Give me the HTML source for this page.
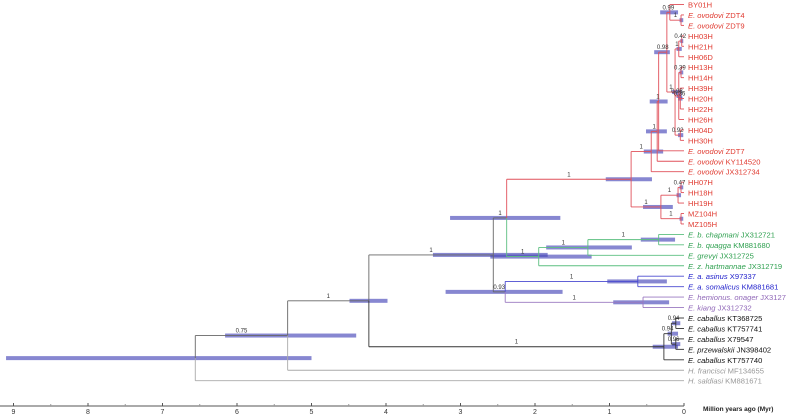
<!DOCTYPE html>
<html><head><meta charset="utf-8">
<style>
html,body{margin:0;padding:0;background:#fff;}
svg{display:block;font-family:"Liberation Sans",sans-serif;}
</style></head>
<body>
<svg id="chart" width="786" height="416" viewBox="0 0 786 416"></svg>
<script>
// ---- data ----
const leafNames = [
 ["","BY01H"],["E. ovodovi"," ZDT4"],["E. ovodovi"," ZDT9"],["","HH03H"],["","HH21H"],["","HH06D"],
 ["","HH13H"],["","HH14H"],["","HH39H"],["","HH20H"],["","HH22H"],["","HH26H"],["","HH04D"],["","HH30H"],
 ["E. ovodovi"," ZDT7"],["E. ovodovi"," KY114520"],["E. ovodovi"," JX312734"],["","HH07H"],["","HH18H"],["","HH19H"],
 ["","MZ104H"],["","MZ105H"],["E. b. chapmani"," JX312721"],["E. b. quagga"," KM881680"],["E. grevyi"," JX312725"],
 ["E. z. hartmannae"," JX312719"],["E. a. asinus"," X97337"],["E. a. somalicus"," KM881681"],
 ["E. hemionus. onager"," JX312730"],["E. kiang"," JX312732"],["E. caballus"," KT368725"],["E. caballus"," KT757741"],
 ["E. caballus"," X79547"],["E. przewalskii"," JN398402"],["E. caballus"," KT757740"],["H. francisci"," MF134655"],["H. saldiasi"," KM881671"]
];
const leafGroups = ["r","r","r","r","r","r","r","r","r","r","r","r","r","r","r","r","r","r","r","r","r","r",
 "g","g","g","g","b","b","p","p","k","k","k","k","k","o","o"];
const nodeIds =      ["N0","N1","N2","N3","N4","N5","N6","N7","N8","N9","N10","N11","N12","N13","N14","N15","N15a","N15b","N16","N17","N18","N19","N20","N21","N22","N23","N25","N26","N27","N30","N31","N32","N33"];
const nodeAges =     [6.56,5.32,4.23,2.56,2.38,0.71,0.44,0.36,0.34,0.23,0.19,0.04,0.12,0.07,0.03,0.07,0.04,0.05,0.05,0.31,0.08,0.04,0.04,1.95,1.29,0.34,2.40,0.62,0.55,0.27,0.17,0.11,0.11];
const nodePost =     ["",  "0.75","1","1","1","1","1","1","1","0.98","0.99","1","1","1","0.42","0.98","0.39","0.36","0.92","1","1","0.47","1","1","1","1","0.93","1","1","1","0.94","0.94","0.96"];
const nodeHpdLo =    [9.10,6.16,4.49,3.37,3.14,1.05,0.54,0.51,0.46,0.40,0.32,0.06,0.16,0.10,0.05,0.10,0.06,0.08,0.08,0.55,0.10,0.06,0.06,2.60,1.85,0.58,3.20,1.03,0.95,0.42,0.22,0.16,0.16];
const nodeHpdHi =    [5.00,4.40,3.98,1.83,1.66,0.43,0.28,0.23,0.22,0.19,0.08,0.01,0.03,0.03,0.01,0.03,0.01,0.02,0.01,0.15,0.04,0.01,0.01,1.24,0.70,0.12,1.63,0.23,0.20,0.08,0.08,0.05,0.05];
const nodeChildren = [["N1","L36"],["N2","L35"],["N3","N30"],["N4","N25"],["N5","N21"],["N6","N17"],["N7","L16"],["N8","L15"],["N9","L14"],
 ["N10","N12"],["L0","N11"],["L1","L2"],["N13","N15","N16"],["N14","L5"],["L3","L4"],["N15a","N15b","L11"],["L6","L7"],["L8","L9","L10"],["L12","L13"],
 ["N18","N20"],["N19","L19"],["L17","L18"],["L20","L21"],["N22","L25"],["N23","L24"],["L22","L23"],["N26","N27"],["L26","L27"],["L28","L29"],
 ["N31","L34"],["N32","N33"],["L30","L31"],["L32","L33"]];
const tickLabels = [9,8,7,6,5,4,3,2,1,0];

// ---- layout ----
const X0 = 684, PX = 74.5;
const xs = t => X0 - t*PX;
const leafY = i => 4.5 + i*10.45;
const lineCol = {r:"#e0505a",g:"#5cbf80",b:"#4a4ad0",p:"#9a78c0",k:"#333",o:"#aaa",m:"#666"};
const textCol = {r:"#e03a30",g:"#2fa050",b:"#2222cc",p:"#9068b8",k:"#111",o:"#999"};
const svg = document.getElementById('chart');
const NS = "http://www.w3.org/2000/svg";
function mk(tag, at, parent){const e=document.createElementNS(NS,tag);for(const k in at)e.setAttribute(k,at[k]);(parent||svg).appendChild(e);return e;}

const info = {};
leafNames.forEach((n,i)=>{info["L"+i]={x:X0,y:leafY(i),grp:leafGroups[i],leaf:true,idx:i};});
function resolve(id){
  if(info[id]) return info[id];
  const k = nodeIds.indexOf(id);
  const ch = nodeChildren[k].map(resolve);
  const ys = ch.map(c=>c.y);
  const grps = [...new Set(ch.map(c=>c.grp))];
  const o = {x:xs(nodeAges[k]), y:(Math.min(...ys)+Math.max(...ys))/2, grp:grps.length===1?grps[0]:"m", k, ch};
  info[id]=o; return o;
}
const root = resolve("N0");

const gB = mk('g',{});


const gE = mk('g',{});


const gT = mk('g',{});



function draw(n, px){
  const col = n.grp==="m" ? lineCol.m : lineCol[n.grp];
  if(px!==undefined){
    const h = mk('line',{x1:px,y1:n.y,x2:n.x,y2:n.y,stroke:col,'stroke-width':0.9},gE);
    
    
  }
  if(n.leaf) return;
  n.ch.forEach(c=>{
    const cc = c.grp==="m" ? lineCol.m : lineCol[c.grp];
    const v = mk('line',{x1:n.x,y1:n.y,x2:n.x,y2:c.y,stroke:cc,'stroke-width':0.9},gE);
    
    
    draw(c, n.x);
  });
  const k = n.k;
  const b = mk('rect',{x:xs(nodeHpdLo[k]),y:n.y-2,width:xs(nodeHpdHi[k])-xs(nodeHpdLo[k]),height:4,fill:"rgba(70,70,185,0.65)"},gB);
  
  
  if(nodePost[k]){
    const lx = px!==undefined ? (px+n.x)/2 : n.x;
    const t = mk('text',{x:lx,y:n.y-3,'font-size':6,fill:"#333",'text-anchor':'middle'},gT);
    t.textContent = nodePost[k];
    
    
  }
}
draw(root);

// leaf labels
leafNames.forEach((n,i)=>{
  const t = mk('text',{x:688,y:leafY(i)+3,'font-size':7.6,fill:textCol[leafGroups[i]]});
  
  
  if(n[0]){const s=mk('tspan',{'font-style':'italic'},t);s.textContent=n[0];}
  const s2=mk('tspan',{},t);s2.textContent=n[1];
});

// axis
const ax = mk('g',{});


mk('line',{x1:0,y1:406,x2:X0,y2:406,stroke:"#555",'stroke-width':1},ax);
tickLabels.forEach(v=>{
  mk('line',{x1:xs(v),y1:403,x2:xs(v),y2:406,stroke:"#555"},ax);
  if(v>0) mk('line',{x1:xs(v-0.5),y1:404,x2:xs(v-0.5),y2:406,stroke:"#999"},ax);
  const t = mk('text',{x:xs(v),y:414,'font-size':7,fill:"#333",'text-anchor':'middle'},ax);
  t.textContent = v;
  
  
});
const at = mk('text',{x:703,y:411,'font-size':6.5,'font-weight':'bold',fill:"#222"});
at.textContent = "Million years ago (Myr)";


</script>
</body></html>
